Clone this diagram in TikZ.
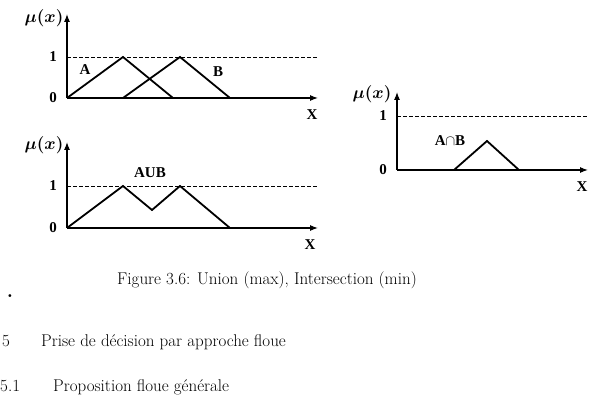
\documentclass[tikz,border=0pt]{standalone}
\usepackage{fontspec}
\newfontfamily\figfont{Liberation Serif}
\usetikzlibrary{arrows.meta}
\tikzstyle{axe}=[-{Latex[length=8pt,width=6pt]}, line width=1.1pt]
\tikzset{
  courbe/.style = {line width=1.8pt, line join=miter},
  seuil/.style = {line width=0.9pt, dash pattern=on 3.5pt off 2.5pt},
  lbl/.style = {inner sep=0pt, font=\figfont\bfseries\fontsize{15}{15}\selectfont},
  mu/.style = {inner sep=0pt, font=\boldmath\fontsize{17}{17}\selectfont},
  texte/.style = {inner sep=0pt, anchor=base west, font=\fontsize{17}{17}\selectfont},
}
\begin{document}
\begin{tikzpicture}[x=1pt,y=-1pt]
\useasboundingbox (0,0) rectangle (592,411);
% A et B
\coordinate (o1) at (67,98);
\coordinate (y1) at (67,14);
\coordinate (x1) at (318,98);
\coordinate (d1) at (67,57);
\coordinate (e1) at (318,57);
\coordinate (a1) at (123,57);
\coordinate (a2) at (173,98);
\coordinate (b0) at (123,98);
\coordinate (b1) at (180,57);
\coordinate (b2) at (230,98);
\draw[seuil] (d1) -- (e1);
\draw[axe] (o1) -- (y1);
\draw[axe] (o1) -- (x1);
\draw[courbe] (o1) -- (a1) -- (a2);
\draw[courbe] (b0) -- (b1) -- (b2);
\node[mu] (mu1) at (44,18) {$\mu(x)$};
\node[lbl] (un1) at (53,57) {1};
\node[lbl] (ze1) at (53,98) {0};
\node[lbl] (la) at (85,70) {A};
\node[lbl] (lb) at (218,72) {B};
\node[lbl] (X1) at (312,115) {X};
% union
\coordinate (o2) at (67,228);
\coordinate (y2) at (67,142);
\coordinate (x2) at (318,228);
\coordinate (d2) at (67,186);
\coordinate (e2) at (318,186);
\coordinate (u1) at (123,186);
\coordinate (u2) at (152,210);
\coordinate (u3) at (180,186);
\coordinate (u4) at (230,228);
\draw[seuil] (d2) -- (e2);
\draw[axe] (o2) -- (y2);
\draw[axe] (o2) -- (x2);
\draw[courbe] (o2) -- (u1) -- (u2) -- (u3) -- (u4);
\node[mu] (mu2) at (44,145) {$\mu(x)$};
\node[lbl] (un2) at (53,186) {1};
\node[lbl] (ze2) at (53,228) {0};
\node[lbl] (lu) at (150,173) {AUB};
\node[lbl] (X2) at (310,245) {X};
% intersection
\coordinate (o3) at (397,170);
\coordinate (y3) at (397,92);
\coordinate (x3) at (588,170);
\coordinate (d3) at (397,116);
\coordinate (e3) at (588,116);
\coordinate (i0) at (454,170);
\coordinate (i1) at (487,141);
\coordinate (i2) at (519,170);
\draw[seuil] (d3) -- (e3);
\draw[axe] (o3) -- (y3);
\draw[axe] (o3) -- (x3);
\draw[courbe] (i0) -- (i1) -- (i2);
\node[mu] (mu3) at (372,94) {$\mu(x)$};
\node[lbl] (un3) at (383,116) {1};
\node[lbl] (ze3) at (383,170) {0};
\node[lbl] (li) at (450,141) {A$\cap$B};
\node[lbl] (X3) at (582,187) {X};
% texte
\node[inner sep=0pt, font=\fontsize{17}{17}\selectfont] (cap) at (267,280) {Figure 3.6: Union (max), Intersection (min)};
\node[inner sep=0pt, font=\bfseries\fontsize{20}{20}\selectfont] (pt) at (10,296) {.};
\node[texte] (n5) at (2,347) {5};
\node[texte] (t5) at (41,347) {Prise de décision par approche floue};
\node[texte] (n51) at (0,392) {5.1};
\node[texte] (t51) at (53,392) {Proposition floue générale};
\end{tikzpicture}
\end{document}
